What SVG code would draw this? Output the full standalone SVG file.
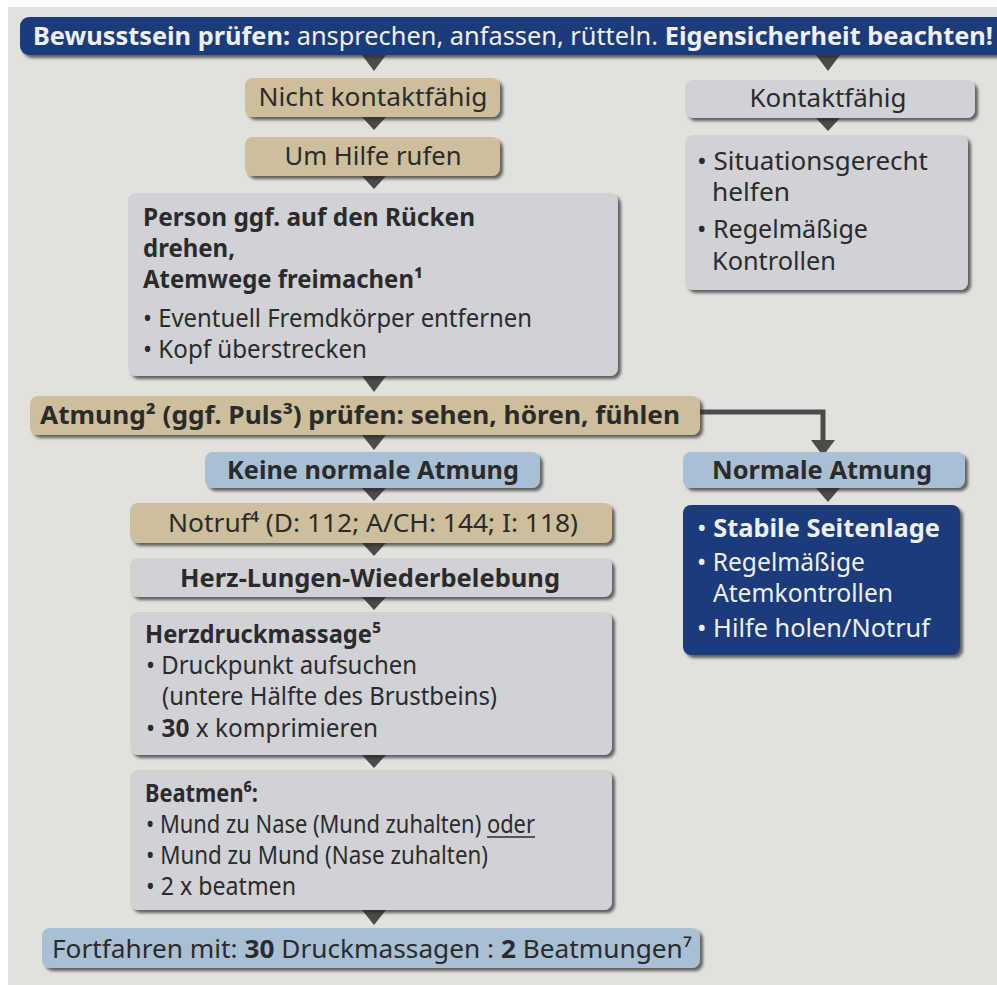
<svg xmlns="http://www.w3.org/2000/svg" width="997" height="985" viewBox="0 0 997 985">
<defs>
<filter id="sh" x="-5%" y="-10%" width="115%" height="130%">
<feDropShadow dx="3" dy="3" stdDeviation="1.8" flood-color="#2a2a2a" flood-opacity="0.7"/>
</filter>
</defs>
<style>
text{font-family:"Noto Sans","DejaVu Sans",sans-serif;font-size:25px;fill:#2b2b2b}
.b{font-weight:bold}
.w{fill:#eef0f4}
.tan{fill:#cdbf9c}
.grey{fill:#d1d2d6}
.lb{fill:#a9bfd4}
.db{fill:#1d3b7c}
.tri{fill:#4b4b4b}
</style>
<rect width="997" height="985" fill="#ffffff"/>
<rect x="8" y="7" width="989" height="978" fill="#e3e1dc"/>

<g id="connectors">
<polygon class="tri" points="362,55 386,55 374,71"/>
<polygon class="tri" points="816,55 840,55 828,71"/>
<polygon class="tri" points="362,117 386,117 374,130"/>
<polygon class="tri" points="816,118 840,118 828,131"/>
<polygon class="tri" points="362,176 386,176 374,189"/>
<polygon class="tri" points="362,376 386,376 374,392"/>
<polygon class="tri" points="362,435 386,435 374,450"/>
<polygon class="tri" points="362,488 386,488 374,501"/>
<polygon class="tri" points="816,488 840,488 828,502"/>
<polygon class="tri" points="362,543 386,543 374,556"/>
<polygon class="tri" points="362,597 386,597 374,610"/>
<polygon class="tri" points="362,755 386,755 374,768"/>
<polygon class="tri" points="362,910 386,910 374,925"/>
<polyline points="700,412 823,412 823,442" fill="none" stroke="#4b4b4b" stroke-width="5"/>
<polygon class="tri" points="811,440 835,440 823,456"/>
</g>

<g id="banner">
<rect class="db" x="20" y="17" width="990" height="38" rx="9" filter="url(#sh)"/>
<text class="w" x="33" y="45" font-size="26" textLength="960" lengthAdjust="spacingAndGlyphs"><tspan class="b w">Bewusstsein prüfen:</tspan> ansprechen, anfassen, rütteln. <tspan class="b w">Eigensicherheit beachten!</tspan></text>
</g>

<g id="nicht-kontaktfaehig">
<rect class="tan" x="245" y="78" width="255" height="39" rx="8" filter="url(#sh)"/>
<text x="373" y="106" text-anchor="middle" textLength="229" lengthAdjust="spacingAndGlyphs">Nicht kontaktfähig</text>
</g>

<g id="kontaktfaehig">
<rect class="grey" x="685" y="80" width="290" height="38" rx="8" filter="url(#sh)"/>
<text x="828" y="107" text-anchor="middle" textLength="157" lengthAdjust="spacingAndGlyphs">Kontaktfähig</text>
</g>

<g id="situationsgerecht">
<rect class="grey" x="685" y="135" width="283" height="155" rx="8" filter="url(#sh)"/>
<text x="697" y="170" textLength="231" lengthAdjust="spacingAndGlyphs">• Situationsgerecht</text>
<text x="712" y="201" textLength="78" lengthAdjust="spacingAndGlyphs">helfen</text>
<text x="697" y="238" textLength="171" lengthAdjust="spacingAndGlyphs">• Regelmäßige</text>
<text x="712" y="270" textLength="124" lengthAdjust="spacingAndGlyphs">Kontrollen</text>
</g>

<g id="um-hilfe-rufen">
<rect class="tan" x="245" y="137" width="255" height="39" rx="8" filter="url(#sh)"/>
<text x="373" y="165" text-anchor="middle" textLength="177" lengthAdjust="spacingAndGlyphs">Um Hilfe rufen</text>
</g>

<g id="atemwege">
<rect class="grey" x="128" y="193" width="490" height="183" rx="8" filter="url(#sh)"/>
<text class="b" x="143" y="226" textLength="332" lengthAdjust="spacingAndGlyphs">Person ggf. auf den Rücken</text>
<text class="b" x="143" y="257" textLength="92" lengthAdjust="spacingAndGlyphs">drehen,</text>
<text class="b" x="143" y="288" textLength="280" lengthAdjust="spacingAndGlyphs">Atemwege freimachen¹</text>
<text x="143" y="327" textLength="389" lengthAdjust="spacingAndGlyphs">• Eventuell Fremdkörper entfernen</text>
<text x="143" y="358" textLength="224" lengthAdjust="spacingAndGlyphs">• Kopf überstrecken</text>
</g>

<g id="atmung-pruefen">
<rect class="tan" x="30" y="396" width="670" height="39" rx="8" filter="url(#sh)"/>
<text class="b" x="40" y="424" textLength="640" lengthAdjust="spacingAndGlyphs">Atmung² (ggf. Puls³) prüfen: sehen, hören, fühlen</text>
</g>

<g id="keine-normale-atmung">
<rect class="lb" x="205" y="452" width="335" height="36" rx="8" filter="url(#sh)"/>
<text class="b" x="373" y="479" text-anchor="middle" textLength="292" lengthAdjust="spacingAndGlyphs">Keine normale Atmung</text>
</g>

<g id="normale-atmung">
<rect class="lb" x="683" y="452" width="282" height="36" rx="8" filter="url(#sh)"/>
<text class="b" x="822" y="479" text-anchor="middle" textLength="220" lengthAdjust="spacingAndGlyphs">Normale Atmung</text>
</g>

<g id="stabile-seitenlage">
<rect class="db" x="683" y="505" width="277" height="150" rx="8" filter="url(#sh)"/>
<text class="w" x="697" y="537" textLength="243" lengthAdjust="spacingAndGlyphs">• <tspan class="b w">Stabile Seitenlage</tspan></text>
<text class="w" x="697" y="571" textLength="168" lengthAdjust="spacingAndGlyphs">• Regelmäßige</text>
<text class="w" x="713" y="602" textLength="180" lengthAdjust="spacingAndGlyphs">Atemkontrollen</text>
<text class="w" x="697" y="637" textLength="233" lengthAdjust="spacingAndGlyphs">• Hilfe holen/Notruf</text>
</g>

<g id="notruf">
<rect class="tan" x="130" y="503" width="482" height="40" rx="8" filter="url(#sh)"/>
<text x="168" y="532" textLength="410" lengthAdjust="spacingAndGlyphs">Notruf⁴ (D: 112; A/CH: 144; I: 118)</text>
</g>

<g id="hlw">
<rect class="grey" x="130" y="558" width="482" height="39" rx="8" filter="url(#sh)"/>
<text class="b" x="370" y="587" text-anchor="middle" textLength="380" lengthAdjust="spacingAndGlyphs">Herz-Lungen-Wiederbelebung</text>
</g>

<g id="herzdruckmassage">
<rect class="grey" x="130" y="612" width="482" height="143" rx="8" filter="url(#sh)"/>
<text class="b" x="145" y="643" textLength="236" lengthAdjust="spacingAndGlyphs">Herzdruckmassage⁵</text>
<text x="146" y="674" textLength="271" lengthAdjust="spacingAndGlyphs">• Druckpunkt aufsuchen</text>
<text x="162" y="705" textLength="335" lengthAdjust="spacingAndGlyphs">(untere Hälfte des Brustbeins)</text>
<text x="146" y="737" textLength="232" lengthAdjust="spacingAndGlyphs">• <tspan class="b">30</tspan> x komprimieren</text>
</g>

<g id="beatmen">
<rect class="grey" x="130" y="770" width="482" height="140" rx="8" filter="url(#sh)"/>
<text class="b" x="145" y="802" textLength="113" lengthAdjust="spacingAndGlyphs">Beatmen⁶:</text>
<text x="146" y="833" textLength="389" lengthAdjust="spacingAndGlyphs">• Mund zu Nase (Mund zuhalten) oder</text>
<line x1="487" y1="837" x2="535" y2="837" stroke="#2b2b2b" stroke-width="1.6"/>
<text x="146" y="864" textLength="342" lengthAdjust="spacingAndGlyphs">• Mund zu Mund (Nase zuhalten)</text>
<text x="146" y="895" textLength="150" lengthAdjust="spacingAndGlyphs">• 2 x beatmen</text>
</g>

<g id="fortfahren">
<rect class="lb" x="42" y="928" width="658" height="40" rx="8" filter="url(#sh)"/>
<text x="52" y="958" textLength="640" lengthAdjust="spacingAndGlyphs">Fortfahren mit: <tspan class="b">30</tspan> Druckmassagen : <tspan class="b">2</tspan> Beatmungen⁷</text>
</g>
</svg>
